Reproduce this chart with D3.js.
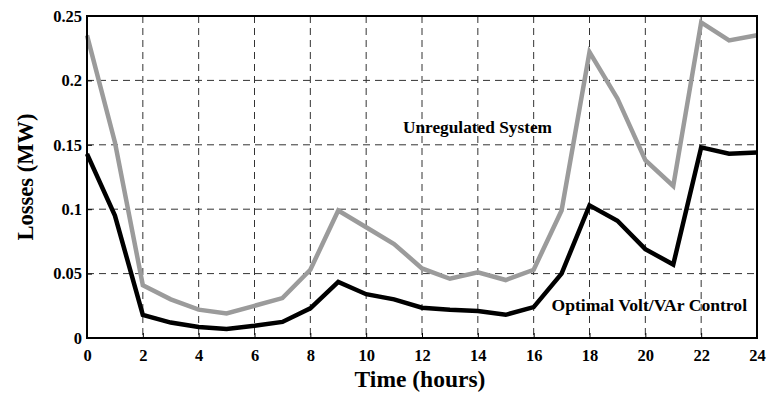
<!DOCTYPE html>
<html>
<head>
<meta charset="utf-8">
<script src="https://cdn.jsdelivr.net/npm/d3@7"></script>
<style>
  body { margin: 0; background: #fff; }
</style>
</head>
<body>
<div id="chart"></div>
<script>
// Data
const HOURS = d3.range(0, 25);
const UNREGULATED = [0.235, 0.152, 0.041, 0.030, 0.022, 0.019, 0.025, 0.031, 0.053, 0.099, 0.086, 0.073, 0.054,
  0.046, 0.051, 0.045, 0.053, 0.099, 0.222, 0.186, 0.138, 0.118, 0.245, 0.231, 0.235];
const OPTIMAL = [0.143, 0.095, 0.018, 0.012, 0.0085, 0.007, 0.0095, 0.0125, 0.023, 0.0435, 0.034, 0.030, 0.0235,
  0.022, 0.021, 0.018, 0.024, 0.050, 0.103, 0.091, 0.069, 0.057, 0.148, 0.143, 0.144];
const X_TICKS = d3.range(0, 25, 2);
const Y_TICKS = [0, 0.05, 0.1, 0.15, 0.2, 0.25];

const FONT = '"Liberation Serif"';
const WIDTH = 770, HEIGHT = 401;
const MARGIN = { LEFT: 87, RIGHT: 13, TOP: 16, BOTTOM: 63 };
const innerW = WIDTH - MARGIN.LEFT - MARGIN.RIGHT;
const innerH = HEIGHT - MARGIN.TOP - MARGIN.BOTTOM;

const svg = d3.select("#chart").append("svg").attr("width", WIDTH).attr("height", HEIGHT);
const g = svg.append("g").attr("transform", `translate(${MARGIN.LEFT},${MARGIN.TOP})`);

const x = d3.scaleLinear().domain([0, 24]).range([0, innerW]);
const y = d3.scaleLinear().domain([0, 0.25]).range([innerH, 0]);

function label(sel, size) {
  return sel.attr("font-family", null).style("font-family", FONT).style("font-weight", "bold")
    .style("font-size", size + "px").attr("fill", "#000");
}

// grid
g.append("g").selectAll("line").data(X_TICKS.slice(1, -1)).join("line")
  .attr("x1", d => x(d)).attr("x2", d => x(d)).attr("y1", 0).attr("y2", innerH)
  .attr("stroke", "#333").attr("stroke-width", 1).attr("stroke-dasharray", "7,5");
g.append("g").selectAll("line").data(Y_TICKS.slice(1, -1)).join("line")
  .attr("y1", d => y(d)).attr("y2", d => y(d)).attr("x1", 0).attr("x2", innerW)
  .attr("stroke", "#333").attr("stroke-width", 1).attr("stroke-dasharray", "7,5");

// axes
const xAxis = g.append("g").attr("transform", `translate(0,${innerH})`)
  .call(d3.axisBottom(x).tickValues(X_TICKS).tickSize(-5).tickPadding(11.5).tickFormat(d3.format("d")));
const yAxis = g.append("g")
  .call(d3.axisLeft(y).tickValues(Y_TICKS).tickSize(-5).tickPadding(5).tickFormat(d => String(d)));
[xAxis, yAxis].forEach(a => {
  a.attr("font-family", null).attr("font-size", null);
  a.select(".domain").remove();
  a.selectAll(".tick line").attr("stroke", "#000").attr("stroke-width", 1);
  label(a.selectAll(".tick text"), 16.5);
});

// lines
const line = d3.line().x((d, i) => x(HOURS[i])).y(d => y(d));
g.append("path").datum(UNREGULATED).attr("d", line)
  .attr("fill", "none").attr("stroke", "#9b9b9b").attr("stroke-width", 4.5).attr("stroke-linejoin", "miter");
g.append("path").datum(OPTIMAL).attr("d", line)
  .attr("fill", "none").attr("stroke", "#000").attr("stroke-width", 4.5).attr("stroke-linejoin", "miter");

// frame
g.append("rect").attr("width", innerW).attr("height", innerH)
  .attr("fill", "none").attr("stroke", "#000").attr("stroke-width", 2);

// annotations
label(g.append("text"), 17.3).attr("x", 403 - MARGIN.LEFT).attr("y", 133.3 - MARGIN.TOP).text("Unregulated System");
label(g.append("text"), 17.6).attr("x", 551.5 - MARGIN.LEFT).attr("y", 310.7 - MARGIN.TOP).text("Optimal Volt/VAr Control");

// axis titles
label(svg.append("text"), 23.5).attr("x", MARGIN.LEFT + innerW / 2 - 2).attr("y", 387)
  .attr("text-anchor", "middle").text("Time (hours)");
label(svg.append("text"), 22.5).attr("transform", `translate(33,${MARGIN.TOP + innerH / 2}) rotate(-90)`)
  .attr("text-anchor", "middle").text("Losses (MW)");
</script>
</body>
</html>
